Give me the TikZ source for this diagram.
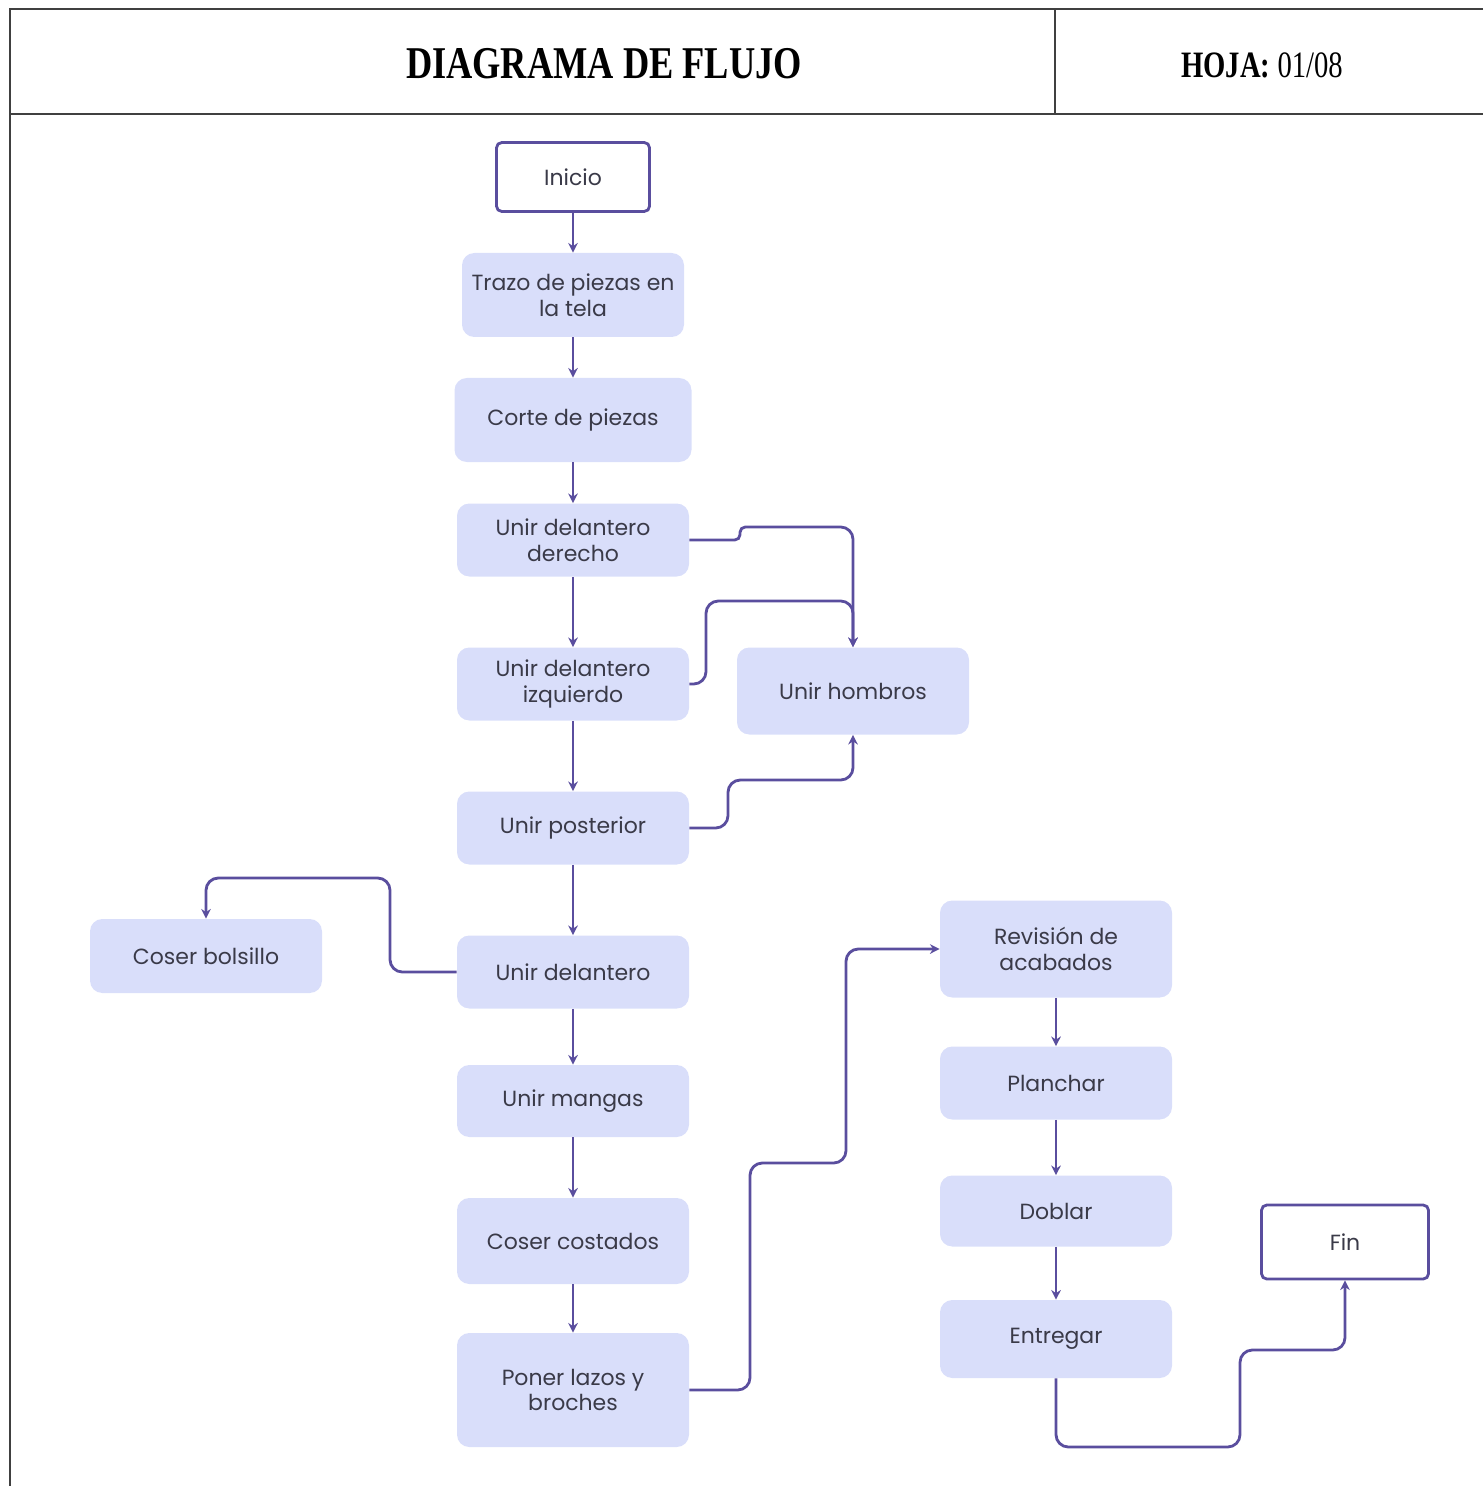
\documentclass[tikz,border=0pt]{standalone}
\usepackage{fontspec}
\setmainfont{Poppins}
\newfontfamily\headfont{Liberation Serif}
\usetikzlibrary{arrows.meta}
\definecolor{linea}{HTML}{5A4E9E}
\definecolor{relleno}{HTML}{D9DEFA}
\definecolor{texto}{HTML}{3A3A48}

\begin{document}
\begin{tikzpicture}[x=0.02cm,y=-0.02cm,>={Stealth[length=5.5pt,width=5.5pt]},
  paso/.style={fill=relleno,rounded corners=7pt,align=center,text=texto,
    font=\fontsize{12.5}{14.7}\selectfont,inner sep=0pt},
  extremo/.style={draw=linea,line width=1.6pt,fill=white,rounded corners=3pt,
    text=texto,font=\fontsize{12.5}{14.7}\selectfont,inner sep=0pt},
  flecha/.style={->,draw=linea,line width=1.6pt,rounded corners=7pt}]
\useasboundingbox (0,0) rectangle (1483,1486);
% marco de la hoja
\draw[line width=1.1pt,black!75] (1483,9) -- (10,9) -- (10,1486);
\draw[line width=1.1pt,black!75] (10,114) -- (1483,114);
\draw[line width=1.1pt,black!75] (1055,9) -- (1055,114);
\node (titulo) at (604,64) {\headfont\bfseries\fontsize{20.7}{22}\selectfont\scalebox{1}[1.25]{DIAGRAMA DE FLUJO}};
\node (hoja) at (1262,65) {\headfont\fontsize{16.3}{18}\selectfont\scalebox{1}[1.3]{\textbf{HOJA:} 01/08}};
% nodos
\node[extremo,minimum width=153*0.02cm,minimum height=69*0.02cm] (ini) at (573,177) {Inicio};
\node[paso,minimum width=222*0.02cm,minimum height=84*0.02cm] (tr) at (573,295) {Trazo de piezas en\\la tela};
\node[paso,minimum width=237*0.02cm,minimum height=84*0.02cm] (co) at (573,420) {Corte de piezas};
\node[paso,minimum width=232*0.02cm,minimum height=73*0.02cm] (ud) at (573,540) {Unir delantero\\derecho};
\node[paso,minimum width=232*0.02cm,minimum height=73*0.02cm] (ui) at (573,684) {Unir delantero\\izquierdo};
\node[paso,minimum width=232*0.02cm,minimum height=87*0.02cm] (uh) at (853,691) {Unir hombros};
\node[paso,minimum width=232*0.02cm,minimum height=73*0.02cm] (up) at (573,828) {Unir posterior};
\node[paso,minimum width=232*0.02cm,minimum height=74*0.02cm] (cb) at (206,956) {Coser bolsillo};
\node[paso,minimum width=232*0.02cm,minimum height=73*0.02cm] (ude) at (573,972) {Unir delantero};
\node[paso,minimum width=232*0.02cm,minimum height=72*0.02cm] (um) at (573,1101) {Unir mangas};
\node[paso,minimum width=232*0.02cm,minimum height=86*0.02cm] (cc) at (573,1241) {Coser costados};
\node[paso,minimum width=232*0.02cm,minimum height=114*0.02cm] (pl) at (573,1390) {Poner lazos y\\broches};
\node[paso,minimum width=232*0.02cm,minimum height=97*0.02cm] (rv) at (1056,949) {Revisión de\\acabados};
\node[paso,minimum width=232*0.02cm,minimum height=73*0.02cm] (pc) at (1056,1083) {Planchar};
\node[paso,minimum width=232*0.02cm,minimum height=71*0.02cm] (db) at (1056,1211) {Doblar};
\node[paso,minimum width=232*0.02cm,minimum height=78*0.02cm] (en) at (1056,1339) {Entregar};
\node[extremo,minimum width=167*0.02cm,minimum height=74*0.02cm] (fin) at (1345,1242) {Fin};
% flechas rectas
\foreach \a/\b in {ini/tr,tr/co,co/ud,ud/ui,ui/up,up/ude,ude/um,um/cc,cc/pl,rv/pc,pc/db,db/en}
  \draw[flecha] (\a) -- (\b);
% flechas con quiebre
\draw[flecha] (ud.east) [rounded corners=3pt] -- (740,540) -- (740,527) -- (770,527)
  [rounded corners=7pt] -- (853,527) -- (uh.north);
\draw[flecha] (ui.east) -- (706,684) -- (706,601) -- (853,601) -- (uh.north);
\draw[flecha] (up.east) -- (728,828) -- (728,780) -- (853,780) -- (uh.south);
\draw[flecha] (ude.west) -- (390,972) -- (390,878) -- (206,878) -- (cb.north);
\draw[flecha] (pl.east) -- (750,1390) -- (750,1163) -- (846,1163) -- (846,949) -- (rv.west);
\draw[flecha] (en.south) -- (1056,1447) -- (1240,1447) -- (1240,1350) -- (1345,1350) -- (fin.south);
\end{tikzpicture}
\end{document}
